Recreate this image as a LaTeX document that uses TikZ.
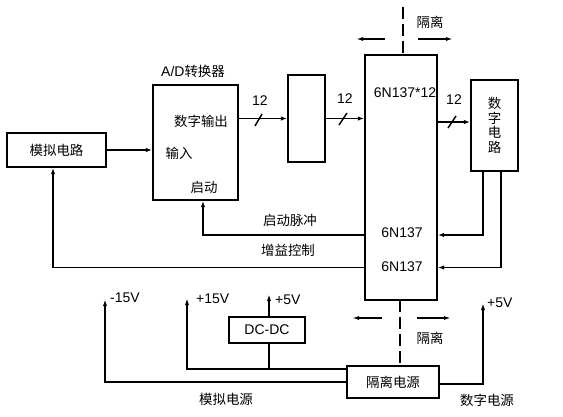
\documentclass[tikz,border=0pt]{standalone}
\usepackage{fontspec}
\setmainfont{Liberation Sans}
\newfontfamily\cjk[Scale=0.96]{Noto Sans CJK SC}
\usetikzlibrary{arrows.meta}
\begin{document}
\begin{tikzpicture}[x=1pt,y=-1pt,
  font=\fontsize{14}{16}\selectfont,
  box/.style={draw, line width=2.2pt, inner sep=0pt},
  sig/.style={line width=1.6pt},
  arr/.style={sig, -{Latex[length=6pt,width=4.5pt]}},
  pwr/.style={sig, -{Latex[length=8pt,width=4pt]}},
  isol/.style={line width=2pt, dash pattern=on 12pt off 5pt},
  isoarr/.style={line width=1.4pt, -{Latex[length=7pt,width=4pt]}},
  slashline/.style={line width=1.5pt},
  lbl/.style={inner sep=0pt}
]
\useasboundingbox (0,0) rectangle (563,416);

% boxes
\node[box, minimum width=99pt, minimum height=34pt] (ana) at (56.5,150) {\cjk 模拟电路};
\node[box, minimum width=85pt, minimum height=115pt] (ad) at (195.5,142.5) {};
\node[box, minimum width=37pt, minimum height=87pt] (mid) at (306.5,118.5) {};
\node[box, minimum width=72pt, minimum height=245pt] (big) at (401,177.5) {};
\node[box, minimum width=47pt, minimum height=91pt, align=center,
      font=\cjk\fontsize{14}{14.5}\selectfont] (dig) at (494.5,125.5) {数\\字\\电\\路};
\node[box, minimum width=76pt, minimum height=26pt] (dcdc) at (267,330) {DC-DC};
\node[box, minimum width=92pt, minimum height=32pt] (iso) at (393,382) {\cjk 隔离电源};

% texts
\node[lbl] (adlbl) at (193,71) {A/D{\cjk 转换器}};
\node[lbl] (adout) at (201,121) {\cjk 数字输出};
\node[lbl] (adin) at (179,153) {\cjk 输入};
\node[lbl] (adst) at (204,187) {\cjk 启动};
\node[lbl] (b1) at (405,93) {6N137*12};
\node[lbl] (b2) at (402,233) {6N137};
\node[lbl] (b3) at (402,267) {6N137};
\node[lbl] (splbl) at (290,220) {\cjk 启动脉冲};
\node[lbl] (gclbl) at (288,250) {\cjk 增益控制};
\node[lbl] (n1) at (260,101) {12};
\node[lbl] (n2) at (345,99) {12};
\node[lbl] (n3) at (454,100) {12};
\node[lbl] (isotop) at (430,22) {\cjk 隔离};
\node[lbl] (isobot) at (430,338) {\cjk 隔离};
\node[lbl] (anap) at (226,399) {\cjk 模拟电源};
\node[lbl] (digp) at (487,400) {\cjk 数字电源};

% signal connectors
\draw[arr] (ana.east) -- (ana.east -| ad.west);
\draw[arr] (mid.west -| ad.east) -- (mid.west);
\draw[arr] (mid.east) -- (mid.east -| big.west);
\draw[arr] ([yshift=3.5pt]dig.west -| big.east) -- ([yshift=3.5pt]dig.west);
\draw[arr] ([yshift=-57.5pt]big.west) -| ([xshift=7.5pt]ad.south);
\draw[arr] ([yshift=-90pt]big.west) -| ([xshift=-3.5pt]ana.south);
\draw[arr] ([xshift=-11.5pt]dig.south) |- ([yshift=-57.5pt]big.east);
\draw[arr] ([xshift=6.5pt]dig.south) |- ([yshift=-90pt]big.east);

% bus slashes
\draw[slashline] (255,126) -- (262,114);
\draw[slashline] (339,125) -- (347,113);
\draw[slashline] (448,128) -- (456,116);

% power connectors
\coordinate (m15) at (105,298);
\coordinate (p15) at (187,297);
\coordinate (p5a) at (269,293);
\coordinate (p5b) at (483,302);
\coordinate (j15) at ([yshift=13pt]iso.west);
\draw[pwr] (iso.west) -| (m15);
\draw[pwr] (j15) -| (p15);
\draw[sig] (dcdc.south -| p5a) -- (j15 -| p5a);
\draw[pwr] (dcdc.north -| p5a) -- (p5a);
\draw[pwr] ([yshift=-2pt]iso.east) -| (p5b);
\node[lbl, anchor=west] (lm15) at (110,298) {-15V};
\node[lbl, anchor=west] (lp15) at (196,299) {+15V};
\node[lbl, anchor=west] (lp5a) at (275,300) {+5V};
\node[lbl, anchor=west] (lp5b) at (487,303) {+5V};

% isolation
\coordinate (isoT) at (403,7);
\coordinate (isoB) at (400,300);
\draw[isol] (isoT) -- (isoT |- big.north);
\draw[isol] (isoB) -- (isoB |- iso.north);
\coordinate (tl1) at (385,39); \coordinate (tl2) at (356,39);
\coordinate (tr1) at (418,39); \coordinate (tr2) at (453,39);
\coordinate (bl1) at (382,318); \coordinate (bl2) at (352,318);
\coordinate (br1) at (417,318); \coordinate (br2) at (451,318);
\draw[isoarr] (tl1) -- (tl2);
\draw[isoarr] (tr1) -- (tr2);
\draw[isoarr] (bl1) -- (bl2);
\draw[isoarr] (br1) -- (br2);
\end{tikzpicture}
\end{document}
